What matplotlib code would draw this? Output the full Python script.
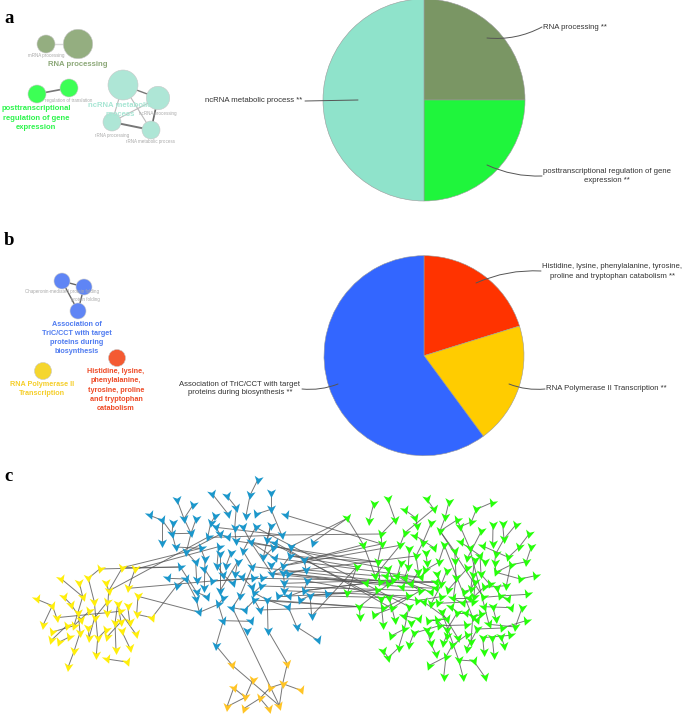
import numpy as np
import matplotlib
matplotlib.use("Agg")
import matplotlib.pyplot as plt
from matplotlib.markers import MarkerStyle
from matplotlib.path import Path
from matplotlib.patches import Circle
from matplotlib.transforms import Affine2D

plt.rcParams['font.family'] = ['Liberation Sans', 'DejaVu Sans']
W, H = 685, 714

# ---------------- pie data ----------------
pie_a_labels = ["RNA processing", "posttranscriptional regulation of gene expression", "ncRNA metabolic process"]
pie_a_values = [25, 25, 50]
pie_a_colors = ["#7A9664", "#1FF53C", "#8FE3CB"]
pie_b_labels = ["Histidine, lysine, phenylalanine, tyrosine, proline and tryptophan catabolism",
                "RNA Polymerase II Transcription", "Association of TriC/CCT with target proteins during biosynthesis"]
pie_b_values = [20.2, 19.7, 60.1]
pie_b_colors = ["#FF3300", "#FFCC00", "#3366FF"]

# ---------------- network data (left part: A frame, right part: B frame) ----------------
yellow_nodes = [(111,388),(157,407),(170,443),(129,466),(183,326),(238,338),(265,325),(299,297),(367,293),(405,298),(319,339),(326,363),(385,355),(414,379),(191,381),(214,404),(248,380),(283,396),(321,397),(353,402),(383,407),(235,430),(243,449),(267,424),(284,443),(322,428),(359,424),(410,433),(456,443),(157,486),(154,511),(178,516),(208,501),(200,467),(222,467),(240,488),(265,474),(267,504),(293,505),(318,480),(322,500),(345,460),(363,455),(389,456),(365,483),(408,493),(390,535),(348,541),(222,544),(289,556),(320,567),(381,576),(205,590)]
blue_nodes = [(773,30),(637,72),(680,77),(750,76),(813,70),(531,90),(579,105),(449,136),(487,151),(519,158),(552,146),(588,148),(709,113),(685,133),(738,138),(767,133),(813,118),(859,136),(645,139),(632,160),(648,172),(704,175),(729,172),(767,172),(812,167),(845,195),(516,191),(573,190),(623,202),(660,193),(683,201),(708,213),(752,216),(800,211),(826,218),(487,218),(527,231),(559,246),(602,235),(656,230),(693,248),(729,243),(820,233),(872,230),(938,218),(790,262),(825,265),(870,258),(913,270),(587,277),(615,267),(660,253),(651,287),(678,288),(713,275),(757,290),(812,285),(848,288),(918,300),(541,291),(505,325),(557,327),(590,331),(613,296),(637,333),(670,315),(698,340),(706,312),(726,322),(760,325),(785,325),(816,312),(850,310),(864,311),(853,340),(922,333),(530,347),(590,367),(613,355),(660,362),(720,378),(755,350),(783,348),(762,368),(852,362),(912,362),(588,386),(622,380),(670,385),(655,403),(697,413),(735,420),(763,390),(780,420),(802,390),(835,378),(868,378),(900,390),(930,377),(980,372),(865,412),(598,427),(670,452),(752,454),(935,438),(740,484),(804,482),(890,470),(954,511),(648,527)]
orange_nodes = [(697,586),(862,581),(758,631),(848,641),(903,661),(701,654),(736,682),(810,653),(780,685),(681,710),(731,716),(808,718),(838,707)]
green_nodes = [(22,145),(101,102),(143,87),(88,152),(165,149),(195,120),(226,143),(261,88),(281,117),(327,95),(316,141),(232,168),(274,158),(351,150),(361,170),(394,156),(409,118),(455,98),(459,165),(488,163),(527,165),(568,191),(424,184),(300,183),(195,188),(124,192),(226,197),(492,207),(574,230),(537,232),(458,223),(428,228),(389,235),(362,217),(70,224),(125,222),(180,226),(208,238),(248,219),(282,233),(313,226),(344,244),(257,249),(228,258),(467,252),(505,262),(559,275),(512,285),(420,257),(404,270),(382,265),(346,273),(296,277),(262,280),(113,276),(183,278),(205,290),(145,297),(50,291),(435,275),(464,278),(382,295),(320,303),(256,300),(235,305),(468,307),(423,313),(398,316),(348,325),(290,313),(541,327),(586,317),(105,317),(137,318),(172,318),(194,323),(158,330),(120,335),(78,340),(145,342),(186,350),(212,342),(243,322),(288,335),(304,343),(449,343),(499,347),(432,352),(405,335),(470,355),(392,358),(324,360),(273,367),(288,355),(110,360),(22,370),(148,383),(205,378),(240,362),(372,365),(480,378),(562,373),(505,388),(430,382),(402,380),(388,385),(340,385),(302,380),(232,392),(253,397),(273,402),(295,400),(368,400),(122,387),(58,410),(130,415),(155,415),(207,410),(333,410),(400,395),(433,410),(458,410),(512,413),(546,414),(60,442),(101,435),(193,437),(352,428),(377,428),(305,425),(237,447),(263,453),(290,450),(322,447),(398,442),(423,433),(412,450),(468,447),(558,452),(130,464),(165,451),(212,460),(298,467),(378,465),(447,463),(486,474),(526,471),(193,477),(221,490),(262,480),(270,493),(320,480),(412,477),(380,495),(320,497),(428,503),(457,505),(483,500),(510,496),(153,498),(353,503),(393,515),(272,520),(310,520),(337,526),(380,537),(432,545),(493,527),(462,555),(208,525),(176,533),(130,543),(145,563),(288,553),(318,560),(356,570),(401,573),(266,587),(311,622),(369,620),(434,620)]

left_chains = [
 [(111,388),(157,407),(129,466)],[(157,407),(170,443)],[(183,326),(248,380)],[(238,338),(248,380)],
 [(265,325),(283,396),(293,505)],[(265,325),(299,297)],[(319,339),(326,363),(322,428)],[(367,293),(326,363)],
 [(405,298),(385,355)],[(191,381),(214,404),(243,449)],[(170,443),(322,428)],[(157,486),(222,467),(267,424)],
 [(154,511),(200,467)],[(178,516),(208,501)],[(235,430),(240,488),(222,544),(205,590)],[(284,443),(267,504)],
 [(322,428),(359,424),(408,493)],[(353,402),(363,455),(322,500)],[(383,407),(389,456)],[(414,379),(410,433),(456,443)],
 [(345,460),(348,541)],[(365,483),(390,535)],[(320,567),(381,576)],[(289,556),(293,505)],[(318,480),(293,505)],
 [(265,474),(267,504)],[(321,397),(284,443)],[(353,402),(345,460)],[(248,380),(222,467)],
 [(367,293),(602,235)],[(405,298),(660,230)],[(299,297),(541,297)],[(385,355),(637,333)],[(326,363),(623,202)],
 [(414,379),(598,427)],[(456,443),(530,347)],[(367,293),(541,291)],
 [(773,30),(750,76),(738,138)],[(637,72),(685,133)],[(680,77),(709,113)],[(813,70),(813,118),(767,133)],[(813,118),(845,195)],
 [(531,90),(552,146),(573,190)],[(579,105),(552,146)],[(449,136),(487,151),(516,191),(527,231)],[(487,151),(487,218)],
 [(519,158),(516,191),(573,190)],[(588,148),(573,190),(559,246)],[(709,113),(704,175),(708,213)],[(645,139),(632,160),(623,202)],
 [(648,172),(660,193),(683,201)],[(729,172),(752,216)],[(767,172),(729,243)],[(812,167),(800,211)],[(812,167),(790,262)],
 [(527,231),(602,235)],[(559,246),(587,277),(590,331)],[(541,291),(590,367)],[(505,325),(557,327),(588,386)],[(530,347),(557,327)],
 [(615,267),(613,355)],[(602,235),(615,267)],[(656,230),(651,287),(670,315)],[(693,248),(678,288)],[(713,275),(706,312)],
 [(729,243),(757,290)],[(752,216),(825,265)],[(752,216),(816,312)],[(660,253),(660,362)],[(637,333),(785,325)],[(637,333),(760,325)],
 [(613,296),(637,333)],[(670,315),(698,340)],[(726,322),(755,350)],[(757,290),(720,378)],[(590,367),(622,380)],[(598,427),(588,386)],
 [(598,427),(655,403),(670,385)],[(670,452),(752,454)],[(670,452),(648,527)],[(655,403),(670,452)],[(697,413),(735,420)],[(697,413),(720,378)],
 [(735,420),(763,390)],[(763,390),(780,420)],[(802,390),(804,482)],[(802,390),(865,412),(890,470),(954,511)],
 [(835,378),(868,378),(912,362)],[(930,377),(935,438)],[(900,390),(930,377),(980,372)],[(850,310),(853,340),(852,362)],
 [(870,258),(848,288),(816,312)],[(872,230),(870,258)],[(820,233),(790,262)],[(913,270),(918,300)],[(922,333),(912,362)],[(864,311),(918,300)],
 [(783,348),(762,368),(802,390)],[(712,275),(660,362)],[(623,202),(683,201),(845,195)],[(648,172),(845,180)],[(660,193),(559,246)],
 [(648,527),(697,586),(838,707)],[(697,413),(838,707)],[(804,482),(862,581),(848,641),(903,661)],[(848,641),(810,653)],
 [(758,631),(736,682),(701,654),(681,710),(736,682)],[(780,685),(810,653)],[(780,685),(731,716)],[(808,718),(780,685)],[(848,641),(838,707)],
]
right_chains = [
 [(22,145),(70,224),(105,317)],[(101,102),(88,152)],[(143,87),(165,149),(124,192)],[(124,192),(125,222),(113,276)],
 [(195,120),(226,143),(232,168)],[(261,88),(281,117),(195,188)],[(327,95),(316,141),(300,183)],[(300,183),(351,150),(361,170),(389,235)],
 [(361,170),(394,156),(409,118),(455,98)],[(459,165),(458,223)],[(488,163),(492,207),(467,252)],[(527,165),(492,207)],
 [(568,191),(537,232),(505,262)],[(574,230),(559,275),(512,285),(468,307)],[(424,184),(382,265)],[(274,158),(248,219),(228,258)],
 [(300,183),(344,244)],[(195,188),(180,226),(105,317)],[(226,197),(282,233)],[(362,217),(389,235),(420,257)],[(428,228),(505,262)],
 [(313,226),(296,277),(256,300)],[(344,244),(346,273),(348,325)],[(257,249),(262,280)],[(208,238),(205,290)],[(228,258),(235,305)],
 [(420,257),(423,313)],[(404,270),(398,316)],[(467,252),(464,278),(468,307)],[(541,327),(586,317)],[(468,307),(541,327)],[(512,285),(499,347)],
 [(320,303),(304,343),(273,402)],[(382,295),(324,360)],[(449,343),(432,352),(402,380)],[(499,347),(432,352)],[(562,373),(480,378),(430,382)],
 [(470,355),(480,378)],[(505,388),(480,378)],[(512,413),(433,410)],[(546,414),(526,471)],[(558,452),(486,474)],[(526,471),(447,463)],
 [(458,410),(468,447)],[(58,410),(60,442)],[(22,370),(50,291)],[(58,410),(145,342)],[(101,435),(155,415)],[(130,464),(122,387)],
 [(165,451),(148,383)],[(153,498),(193,477),(207,410)],[(176,533),(193,477)],[(208,525),(221,490)],[(221,490),(298,467)],
 [(130,543),(145,563),(176,533)],[(266,587),(318,560)],[(311,622),(318,560)],[(369,620),(356,570)],[(356,570),(401,573),(434,620)],
 [(288,553),(272,520),(262,480)],[(356,570),(305,425)],[(318,560),(337,526)],[(310,520),(320,497),(320,480),(352,428)],[(337,526),(380,495)],
 [(380,537),(412,477)],[(432,545),(428,503)],[(462,555),(457,505)],[(493,527),(483,500)],[(428,503),(510,496)],[(412,477),(486,474)],
 [(393,515),(398,442)],[(353,503),(305,425)],[(378,465),(298,467)],[(155,415),(240,362)],[(130,415),(205,378)],[(340,385),(368,400)],
 [(295,400),(400,395)],[(340,385),(388,385)],[(232,392),(302,380)],[(212,342),(273,367)],[(186,350),(288,355)],[(120,335),(288,335)],
 [(137,318),(243,322)],[(172,318),(240,362)],[(194,323),(288,355)],[(158,330),(145,342)],[(105,317),(137,318)],[(145,297),(158,330)],
 [(205,290),(194,323)],[(183,278),(172,318)],[(113,276),(120,335)],[(253,397),(322,447)],[(263,453),(290,450)],[(237,447),(193,437)],
 [(290,450),(320,480)],[(322,447),(263,453)],[(377,428),(412,450)],[(423,433),(398,442)],[(352,428),(377,428)],[(333,410),(352,428)],
 [(405,335),(392,358),(372,365)],[(405,335),(402,380),(400,395)],[(423,313),(449,343)],[(398,316),(392,358)],[(348,325),(340,385)],
 [(290,313),(304,343)],[(235,305),(212,342)],[(256,300),(243,322)],[(300,183),(430,382)],[(389,235),(447,463)],[(316,226),(398,442)],
]
cross_edges = [  # left-frame point, right-frame point
 ((859,136),(125,222)),((845,195),(124,192)),((938,218),(22,145)),((872,230),(22,145)),((848,288),(70,224)),((848,288),(180,226)),
 ((913,270),(125,222)),((918,300),(105,317)),((864,311),(145,342)),((850,310),(78,340)),((816,312),(186,350)),((825,265),(243,322)),
 ((757,290),(212,342)),((752,216),(145,297)),((708,213),(113,276)),((853,340),(158,330)),((852,362),(205,378)),((868,378),(22,370)),
 ((930,377),(148,383)),((980,372),(110,360)),((802,390),(58,410)),((780,420),(58,410)),((935,438),(50,291)),((912,362),(120,335)),
 ((785,325),(288,335)),((816,312),(228,258)),((922,333),(232,392)),((783,348),(240,362)),((870,258),(50,291)),((870,258),(113,276)),
 ((912,362),(78,340)),((763,390),(130,415)),((826,218),(155,415)),((800,211),(122,387)),((767,172),(207,410)),
]

RIGHT_OFFSET = 1020
groups = [(yellow_nodes, 0, "#FFEE0A"), (blue_nodes, 0, "#1B97CB"), (orange_nodes, 0, "#FFC425"), (green_nodes, RIGHT_OFFSET, "#26FF0A")]

fig = plt.figure(figsize=(W/100, H/100), dpi=100)
ax = fig.add_axes([0, 0, 1, 1])
ax.set_xlim(0, W); ax.set_ylim(H, 0); ax.axis('off')

# panel letters
for s, x, y in [("a", 4, 23), ("b", 4, 245), ("c", 4, 481)]:
    ax.text(x, y, s, family='Liberation Serif', weight='bold', fontsize=13.5, va='baseline', ha='left', color='black')

# pies
def pie(cx, cy, r, vals, cols):
    a = fig.add_axes([(cx-r)/W, 1-(cy+r)/H, 2*r/W, 2*r/H])
    a.pie(vals, colors=cols, startangle=90, counterclock=False, radius=1,
          wedgeprops=dict(linewidth=0.4, edgecolor='#999999'))
    a.set_xlim(-1, 1); a.set_ylim(-1, 1)
    a.patch.set_alpha(0)
pie(424, 100, 101, pie_a_values, pie_a_colors)
pie(424, 355.7, 100, pie_b_values, pie_b_colors)

top = fig.add_axes([0, 0, 1, 1])
top.set_xlim(0, W); top.set_ylim(H, 0); top.axis('off'); top.patch.set_alpha(0)

# pie labels + leaders
def pie_label(txt, x, y, ha, p0, p1, rad):
    top.text(x, y, txt, fontsize=5.6, ha=ha, va='center', color='#333333', linespacing=1.4, multialignment='center')
    top.annotate("", xy=p1, xytext=p0, arrowprops=dict(arrowstyle='-', color='#555555', lw=0.7,
                 connectionstyle=f"arc3,rad={rad}", shrinkA=0, shrinkB=0))
pie_label("RNA processing **", 543, 27.5, 'left', (487, 38), (542, 27), 0.15)
pie_label("posttranscriptional regulation of gene\nexpression **", 607, 176, 'center', (487, 165), (542, 176), 0.12)
pie_label("ncRNA metabolic process **", 205, 101, 'left', (305, 101), (358, 100), 0)
pie_label("Histidine, lysine, phenylalanine, tyrosine,\nproline and tryptophan catabolism **", 612.5, 271.5, 'center', (476, 283), (541, 271), -0.12)
pie_label("RNA Polymerase II Transcription **", 546, 388.5, 'left', (509, 384), (545, 389), 0.12)
pie_label("Association of TriC/CCT with target\nproteins during biosynthesis **", 240, 388.5, 'center', (302, 389), (338, 384), 0.12)

# enrichment cluster maps: circles
clusters = [
 (46, 44, 9, "#94AE80"), (78, 44, 14.7, "#94AE80"),
 (37, 94, 9, "#3CFF55"), (69, 88, 9, "#3CFF55"),
 (123, 85, 15, "#AEE6D6"), (158, 98, 11.7, "#AEE6D6"), (112, 122, 9, "#AEE6D6"), (151, 130, 9, "#AEE6D6"),
 (62, 281, 8, "#5F85F5"), (84, 287, 8, "#5F85F5"), (78, 311, 8, "#5F85F5"),
 (43, 371, 8.5, "#F5D62E"), (117, 358, 8.5, "#F45A32"),
]
cluster_edges = [
 (46, 44, 78, 44, "#D8D8D8", 1.0), (37, 94, 69, 88, "#777777", 1.2),
 (123, 85, 158, 98, "#777777", 1.0), (123, 85, 112, 122, "#BBBBBB", 0.8), (123, 85, 151, 130, "#BBBBBB", 0.8),
 (158, 98, 151, 130, "#666666", 1.2), (112, 122, 151, 130, "#777777", 1.4), (158, 98, 112, 122, "#BBBBBB", 0.8),
 (62, 281, 84, 287, "#666666", 1.0), (62, 281, 78, 311, "#666666", 1.0), (84, 287, 78, 311, "#666666", 1.0),
]
for x0, y0, x1, y1, c, lw in cluster_edges:
    top.plot([x0, x1], [y0, y1], color=c, lw=lw, zorder=2)
for x, y, r, c in clusters:
    top.add_patch(Circle((x, y), r, facecolor=c, edgecolor='#C8C8C8', lw=0.4, zorder=3))

small = [("mRNA processing", 46, 56), ("regulation of translation", 69, 100.5), ("ncRNA processing", 158, 113),
         ("rRNA processing", 112, 135), ("rRNA metabolic process", 151, 142),
         ("Chaperonin-mediated protein folding", 62.5, 292), ("protein folding", 85, 299)]
for s, x, y in small:
    top.text(x, y, s, fontsize=3.25, color='#AAAAAA', ha='center', va='center', zorder=4)

bold = [("RNA processing", 78, 64, "#8CA878", 5.6),
        ("posttranscriptional\nregulation of gene\nexpression", 36, 118, "#2CF54C", 5.5),
        ("ncRNA metabolic\nprocess", 120, 110, "#A8E6D4", 5.6),
        ("Association of\nTriC/CCT with target\nproteins during\nbiosynthesis", 77, 338, "#4F7BF0", 5.2),
        ("RNA Polymerase II\nTranscription", 42, 389, "#F5CE2A", 5.2),
        ("Histidine, lysine,\nphenylalanine,\ntyrosine, proline\nand tryptophan\ncatabolism", 116, 390, "#EE4A26", 5.2)]
for s, x, y, c, fs in bold:
    top.text(x, y, s, fontsize=fs, color=c, weight='bold', ha='center', va='center', linespacing=1.42, zorder=5)

# network axes (1 unit = 1/3 pixel)
net = fig.add_axes([0, 0, 1, 244/H])
net.set_xlim(0, 2055); net.set_ylim(732, 0); net.axis('off'); net.patch.set_alpha(0)

all_xy = np.array([(x+off, y) for nodes, off, _ in groups for x, y in nodes], float)
def snap(p):
    return int(np.argmin(((all_xy - p)**2).sum(axis=1)))
pairs = []
for ch in left_chains:
    ids = [snap(np.array(p, float)) for p in ch]
    pairs += list(zip(ids[:-1], ids[1:]))
for ch in right_chains:
    ids = [snap(np.array((p[0]+RIGHT_OFFSET, p[1]), float)) for p in ch]
    pairs += list(zip(ids[:-1], ids[1:]))
for a_, b_ in cross_edges:
    pairs.append((snap(np.array(a_, float)), snap(np.array((b_[0]+RIGHT_OFFSET, b_[1]), float))))

neighbour = {}
for i, j in pairs:
    if i == j:
        continue
    net.plot(all_xy[[i, j], 0], all_xy[[i, j], 1], color='#555555', lw=0.7, alpha=0.8, zorder=1, solid_capstyle='round')
    neighbour.setdefault(i, j); neighbour.setdefault(j, i)

chevron = Path([(0, -1), (-1, 0.9), (0, 0.4), (1, 0.9), (0, -1)], closed=True)
idx = 0
for nodes, off, col in groups:
    for x, y in nodes:
        tilt = 0.0
        if idx in neighbour:
            d = all_xy[idx] - all_xy[neighbour[idx]]
            if d[1] < 0:
                d = -d
            tilt = 0.35 * np.clip(np.degrees(np.arctan2(d[0], max(d[1], 1e-6))), -60, 60)
        m = MarkerStyle(chevron, transform=Affine2D().rotate_deg(tilt))
        net.plot([x+off], [y], marker=m, ms=6.5, color=col, mec='none', ls='none', zorder=3)
        idx += 1

fig.savefig("out.png", dpi=100, facecolor='white')
